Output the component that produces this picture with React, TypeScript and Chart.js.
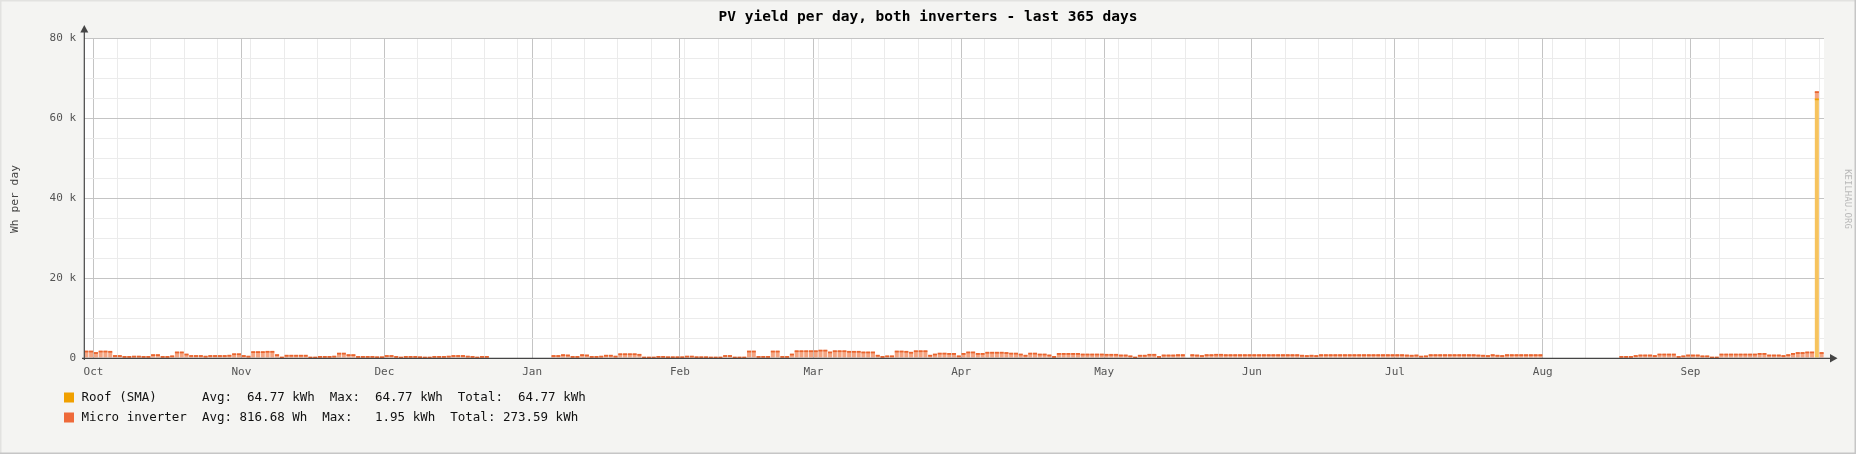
import { useEffect, useRef } from "react";
import { Chart, registerables } from "chart.js";

Chart.register(...registerables);

const MONO = "'DejaVu Sans Mono', monospace";

// day 0 = Sep 29 of the previous year, day 364 = Sep 28
const monthNames = ["Oct", "Nov", "Dec", "Jan", "Feb", "Mar", "Apr", "May", "Jun", "Jul", "Aug", "Sep"];
const monthStartDays = [2, 33, 63, 94, 125, 153, 184, 214, 245, 275, 306, 337];
const yTickLabels = ["0", "20 k", "40 k", "60 k", "80 k"];

// Micro inverter, Wh per day (null = no data)
const microWh: (number | null)[] = [
  // Sep 29-30
  1725, 1725,
  // Oct
  1350, 1725, 1725, 1650, 600, 600, 375, 375, 450, 450, 375, 375, 825, 825, 375, 375, 525, 1500, 1500, 975,
  600, 600, 600, 450, 600, 600, 600, 600, 675, 1050, 1050,
  // Nov
  600, 450, 1575, 1575, 1575, 1650, 1650, 825, 225, 675, 675, 675, 675, 675, 225, 225, 375, 375, 375, 450,
  1200, 1200, 825, 825, 375, 375, 375, 375, 300, 300,
  // Dec
  600, 600, 375, 225, 375, 375, 375, 300, 225, 225, 375, 375, 375, 450, 600, 600, 600, 450, 375, 225,
  375, 375, null, null, null, null, null, null, null, null, null,
  // Jan
  null, null, null, null, 600, 600, 825, 750, 375, 375, 825, 750, 375, 375, 450, 675, 675, 450, 1050, 1050,
  1050, 1050, 900, 225, 225, 225, 375, 375, 300, 300, 300,
  // Feb
  300, 450, 450, 300, 300, 300, 225, 225, 225, 600, 600, 225, 225, 225, 1725, 1725, 375, 375, 375, 1725,
  1725, 375, 375, 975, 1800, 1800, 1800, 1800,
  // Mar
  1800, 1950, 1950, 1500, 1800, 1800, 1800, 1650, 1650, 1650, 1500, 1500, 1500, 675, 375, 525, 525, 1725, 1725, 1650,
  1425, 1800, 1800, 1800, 675, 975, 1200, 1200, 1125, 1125, 525,
  // Apr
  1125, 1500, 1500, 1125, 1125, 1425, 1425, 1425, 1425, 1350, 1200, 1200, 975, 675, 1200, 1200, 975, 975, 750, 375,
  1125, 1125, 1125, 1125, 1125, 975, 975, 975, 975, 975,
  // May
  900, 900, 900, 750, 750, 525, 225, 675, 675, 900, 900, 375, 750, 750, 750, 825, 825, null, 825, 750,
  600, 825, 825, 900, 900, 825, 825, 825, 825, 825, 825,
  // Jun
  825, 825, 825, 825, 825, 825, 825, 825, 825, 825, 675, 600, 675, 600, 825, 825, 825, 825, 825, 825,
  825, 825, 825, 825, 825, 825, 825, 825, 825, 825,
  // Jul
  825, 825, 750, 675, 750, 450, 525, 825, 825, 825, 825, 825, 825, 825, 825, 825, 825, 750, 675, 600,
  825, 675, 600, 825, 825, 825, 825, 825, 825, 825, 825,
  // Aug
  null, null, null, null, null, null, null, null, null, null, null, null, null, null, null, null, 375, 375, 375, 600,
  750, 750, 750, 600, 975, 975, 975, 975, 375, 525, 750,
  // Sep
  750, 750, 525, 525, 225, 225, 975, 975, 975, 975, 975, 975, 975, 975, 1125, 1125, 750, 750, 750, 600,
  825, 1125, 1350, 1350, 1500, 1500, 1800, 1350,
];

// Roof (SMA): only one day reported
const roofDays = [363];
const roofWh = [64770];

const legendRows = [
  { color: "#F0A000", text: "Roof (SMA)      Avg:  64.77 kWh  Max:  64.77 kWh  Total:  64.77 kWh" },
  { color: "#EE6A3A", text: "Micro inverter  Avg: 816.68 Wh  Max:   1.95 kWh  Total: 273.59 kWh" },
];
const lineColors = ["#F0A000", "#E9652F"];

const gridDays: number[] = [];
for (let d = 7; d < 365; d += 7) gridDays.push(d);
monthStartDays.forEach((d) => {
  if (!gridDays.includes(d)) gridDays.push(d);
});
gridDays.sort((a, b) => a - b);

const rrdDecor = {
  id: "rrdDecor",
  beforeDraw(chart: Chart) {
    const { ctx, width, height, chartArea: a } = chart;
    ctx.save();
    ctx.fillStyle = "#f4f4f2";
    ctx.fillRect(0, 0, width, height);
    ctx.fillStyle = "#ffffff";
    ctx.fillRect(a.left, a.top, a.right - a.left, a.bottom - a.top);
    ctx.restore();
  },
  afterDatasetsDraw(chart: Chart) {
    // rrdtool-like line on top of each daily area
    const { ctx } = chart;
    ctx.save();
    chart.data.datasets.forEach((_, di) => {
      const meta = chart.getDatasetMeta(di);
      ctx.fillStyle = lineColors[di];
      meta.data.forEach((el: any) => {
        if (el.skip || !isFinite(el.y) || !isFinite(el.base) || el.base - el.y <= 0) return;
        ctx.fillRect(el.x - el.width / 2, el.y - 0.5, el.width, 1.8);
      });
    });
    ctx.restore();
  },
  afterDraw(chart: Chart) {
    const { ctx, width, height, chartArea: a } = chart;
    ctx.save();

    // axes
    ctx.strokeStyle = "#454545";
    ctx.fillStyle = "#454545";
    ctx.lineWidth = 1.2;
    ctx.beginPath();
    ctx.moveTo(a.left + 0.3, 31);
    ctx.lineTo(a.left + 0.3, a.bottom + 2);
    ctx.moveTo(a.left - 2, a.bottom + 0.3);
    ctx.lineTo(1831, a.bottom + 0.3);
    ctx.stroke();
    ctx.beginPath();
    ctx.moveTo(a.left + 0.3, 25);
    ctx.lineTo(a.left - 3.7, 32.5);
    ctx.lineTo(a.left + 4.3, 32.5);
    ctx.closePath();
    ctx.fill();
    ctx.beginPath();
    ctx.moveTo(1837.5, a.bottom + 0.3);
    ctx.lineTo(1830, a.bottom - 3.9);
    ctx.lineTo(1830, a.bottom + 4.5);
    ctx.closePath();
    ctx.fill();

    // title
    ctx.fillStyle = "#000";
    ctx.font = `bold 14.5px ${MONO}`;
    ctx.textAlign = "center";
    ctx.textBaseline = "middle";
    ctx.fillText("PV yield per day, both inverters - last 365 days", 928, 17);

    // y axis title
    ctx.save();
    ctx.translate(15, 199);
    ctx.rotate(-Math.PI / 2);
    ctx.fillStyle = "#444";
    ctx.font = `11.3px ${MONO}`;
    ctx.fillText("Wh per day", 0, 0);
    ctx.restore();

    // watermark
    ctx.save();
    ctx.translate(1847, 199);
    ctx.rotate(Math.PI / 2);
    ctx.fillStyle = "#b8b8b8";
    ctx.font = `9px ${MONO}`;
    ctx.fillText("KEILHAU.ORG", 0, 0);
    ctx.restore();

    // legend
    ctx.textAlign = "left";
    ctx.font = `12.5px ${MONO}`;
    legendRows.forEach((row, i) => {
      const y = 397.5 + i * 20;
      ctx.fillStyle = row.color;
      ctx.fillRect(64, y - 5, 10, 10);
      ctx.fillStyle = "#111";
      ctx.fillText(row.text, 81.5, y);
    });

    // frame
    ctx.fillStyle = "#e2e2e0";
    ctx.fillRect(0, 0, width, 1.5);
    ctx.fillRect(0, 0, 1.5, height);
    ctx.fillStyle = "#c6c6c6";
    ctx.fillRect(0, height - 1.5, width, 1.5);
    ctx.fillRect(width - 1.5, 0, 1.5, height);
    ctx.restore();
  },
};

export default function App() {
  const canvasRef = useRef<HTMLCanvasElement | null>(null);
  const chartRef = useRef<Chart | null>(null);

  useEffect(() => {
    if (!canvasRef.current) return;
    chartRef.current?.destroy();

    const roofData = roofDays.map((d, i) => ({ x: d + 0.5, y: roofWh[i] }));
    const microData = microWh.map((v, d) => ({ x: d + 0.5, y: v }));

    chartRef.current = new Chart(canvasRef.current, {
      type: "bar",
      data: {
        datasets: [
          {
            label: "Roof (SMA)",
            data: roofData as any,
            backgroundColor: "#F6C35E",
            borderWidth: 0,
            barPercentage: 0.85,
            categoryPercentage: 1,
          },
          {
            label: "Micro inverter",
            data: microData as any,
            backgroundColor: "#F5A582",
            borderWidth: 0,
            barPercentage: 0.85,
            categoryPercentage: 1,
          },
        ],
      },
      options: {
        animation: false,
        responsive: false,
        maintainAspectRatio: false,
        layout: { padding: { left: 0, right: 32, top: 38, bottom: 76 } },
        plugins: {
          legend: { display: false },
          tooltip: { enabled: false },
          title: { display: false },
        },
        scales: {
          x: {
            type: "linear",
            stacked: true,
            min: 0,
            max: 365,
            offset: false,
            border: { display: false },
            grid: {
              offset: false,
              drawTicks: false,
              lineWidth: 1,
              color: (c: any) => (monthStartDays.includes(c.tick?.value) ? "#c4c4c4" : "#ebebeb"),
            },
            afterBuildTicks: (s: any) => {
              s.ticks = gridDays.map((v) => ({ value: v }));
            },
            afterFit: (s: any) => {
              s.height = 20;
            },
            ticks: {
              autoSkip: false,
              maxRotation: 0,
              minRotation: 0,
              padding: 8,
              color: "#555",
              font: { family: MONO, size: 11 },
              callback: (v: any) => {
                const i = monthStartDays.indexOf(Number(v));
                return i >= 0 ? monthNames[i] : "";
              },
            },
          },
          y: {
            type: "linear",
            stacked: true,
            min: 0,
            max: 80000,
            border: { display: false },
            grid: {
              drawTicks: false,
              lineWidth: 1,
              color: (c: any) => (c.tick?.value % 20000 === 0 ? "#c4c4c4" : "#ebebeb"),
            },
            afterFit: (s: any) => {
              s.width = 84;
            },
            ticks: {
              stepSize: 5000,
              padding: 8,
              color: "#555",
              font: { family: MONO, size: 11 },
              callback: (v: any) => (Number(v) % 20000 === 0 ? yTickLabels[Number(v) / 20000] : ""),
            },
          },
        },
      },
      plugins: [rrdDecor],
    });

    return () => {
      chartRef.current?.destroy();
      chartRef.current = null;
    };
  }, []);

  return (
    <div style={{ position: "fixed", left: 0, top: 0, width: 1856, height: 454 }}>
      <canvas ref={canvasRef} width={1856} height={454} style={{ width: 1856, height: 454 }} />
    </div>
  );
}
